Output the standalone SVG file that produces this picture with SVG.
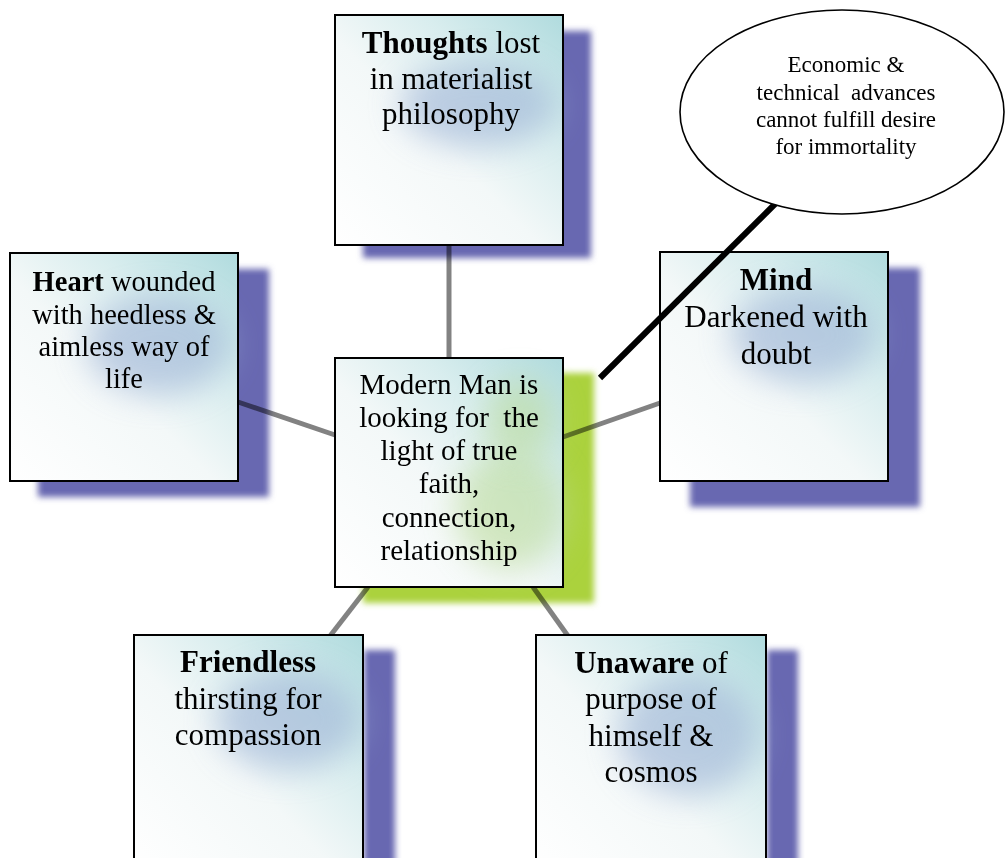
<svg xmlns="http://www.w3.org/2000/svg" width="1006" height="858" viewBox="0 0 1006 858">
<style>
.box{stroke:#000;stroke-width:2}
.bg{fill:url(#boxGrad)}
.shadow{fill:#6767b1;filter:url(#blur4);mix-blend-mode:multiply}
.gshadow{fill:#abd23e;filter:url(#blur4);mix-blend-mode:multiply}
.blob{fill:#9db3d6;opacity:0.6;filter:url(#blur18)}
.gblob{fill:#bcdc9c;opacity:0.6;filter:url(#blur18)}
.t{font-family:"Liberation Serif","Times New Roman",serif;fill:#000;text-anchor:middle;white-space:pre}
.conn{stroke:#828282;stroke-width:5;fill:none}
</style>
<defs>
<filter id="blur4" x="-20%" y="-20%" width="140%" height="140%"><feGaussianBlur stdDeviation="3"/></filter>
<filter id="blur18" x="-60%" y="-60%" width="220%" height="220%"><feGaussianBlur stdDeviation="16"/></filter>
<linearGradient id="boxGrad" x1="1" y1="0" x2="0" y2="1">
<stop offset="0" stop-color="#b0dbde"/>
<stop offset="0.3" stop-color="#d8edee"/>
<stop offset="0.55" stop-color="#f3f8f8"/>
<stop offset="1" stop-color="#ffffff"/>
</linearGradient>
</defs>
<rect width="1006" height="858" fill="#fff"/>

<g id="connectors">
<line class="conn" x1="449" y1="245" x2="449" y2="358"/>
<line class="conn" x1="238" y1="402" x2="335" y2="435"/>
<line class="conn" x1="563" y1="437" x2="660" y2="403"/>
<line class="conn" x1="330" y1="636" x2="368" y2="587"/>
<line class="conn" x1="533" y1="587" x2="568" y2="636"/>
</g>

<g id="node-thoughts">
<rect class="shadow" x="363" y="31" width="228" height="227"/>
<rect class="bg" x="335" y="15" width="228" height="230"/>
<ellipse class="blob" cx="478" cy="105" rx="78" ry="42"/>
<rect class="box" x="335" y="15" width="228" height="230" fill="none"/>
<text class="t" font-size="31" x="451"><tspan x="451" y="53"><tspan font-weight="bold">Thoughts</tspan> lost</tspan><tspan x="451" y="88.5">in materialist</tspan><tspan x="451" y="124">philosophy</tspan></text>
</g>

<g id="node-heart">
<rect class="shadow" x="38" y="269" width="231" height="228"/>
<rect class="bg" x="10" y="253" width="228" height="228"/>
<ellipse class="blob" cx="158" cy="345" rx="72" ry="50"/>
<rect class="box" x="10" y="253" width="228" height="228" fill="none"/>
<text class="t" font-size="28.5" x="124"><tspan x="124" y="291"><tspan font-weight="bold">Heart</tspan> wounded</tspan><tspan x="124" y="324">with heedless &amp;</tspan><tspan x="124" y="356">aimless way of</tspan><tspan x="124" y="388">life</tspan></text>
</g>

<g id="node-mind">
<rect class="shadow" x="690" y="268" width="230" height="239"/>
<rect class="bg" x="660" y="252" width="228" height="229"/>
<ellipse class="blob" cx="803" cy="335" rx="72" ry="48"/>
<rect class="box" x="660" y="252" width="228" height="229" fill="none"/>
<text class="t" font-size="31" x="776"><tspan x="776" y="290" font-weight="bold">Mind</tspan><tspan x="776" y="327">Darkened with</tspan><tspan x="776" y="364">doubt</tspan></text>
</g>

<g id="node-center">
<rect class="gshadow" x="363" y="373" width="231" height="230"/>
<rect class="bg" x="335" y="358" width="228" height="229"/>
<ellipse class="gblob" cx="510" cy="510" rx="55" ry="60"/>
<ellipse class="gblob" cx="520" cy="420" rx="35" ry="40"/>
<rect class="box" x="335" y="358" width="228" height="229" fill="none"/>
<text class="t" font-size="29" x="449"><tspan x="449" y="393.5">Modern Man is</tspan><tspan x="449" y="426.5">looking for  the</tspan><tspan x="449" y="460">light of true</tspan><tspan x="449" y="493">faith,</tspan><tspan x="449" y="526.5">connection,</tspan><tspan x="449" y="560">relationship</tspan></text>
</g>

<g id="node-friendless">
<rect class="shadow" x="364" y="650" width="31" height="230"/>
<rect class="bg" x="134" y="635" width="229" height="240"/>
<ellipse class="blob" cx="288" cy="720" rx="72" ry="50"/>
<rect class="box" x="134" y="635" width="229" height="240" fill="none"/>
<text class="t" font-size="31" x="248"><tspan x="248" y="672" font-weight="bold">Friendless</tspan><tspan x="248" y="708.5">thirsting for</tspan><tspan x="248" y="745">compassion</tspan></text>
</g>

<g id="node-unaware">
<rect class="shadow" x="767" y="650" width="31" height="230"/>
<rect class="bg" x="536" y="635" width="230" height="240"/>
<ellipse class="blob" cx="688" cy="735" rx="70" ry="60"/>
<rect class="box" x="536" y="635" width="230" height="240" fill="none"/>
<text class="t" font-size="31" x="651"><tspan x="651" y="673"><tspan font-weight="bold">Unaware</tspan> of</tspan><tspan x="651" y="709">purpose of</tspan><tspan x="651" y="745.5">himself &amp;</tspan><tspan x="651" y="782">cosmos</tspan></text>
</g>

<g id="node-callout">
<line x1="600" y1="378" x2="776" y2="203" stroke="#000" stroke-width="6"/>
<ellipse cx="842" cy="112" rx="162" ry="102" fill="#fff" stroke="#000" stroke-width="1.6"/>
<text class="t" font-size="23" x="846"><tspan x="846" y="72">Economic &amp;</tspan><tspan x="846" y="99.5">technical  advances</tspan><tspan x="846" y="127">cannot fulfill desire</tspan><tspan x="846" y="154">for immortality</tspan></text>
</g>
</svg>
